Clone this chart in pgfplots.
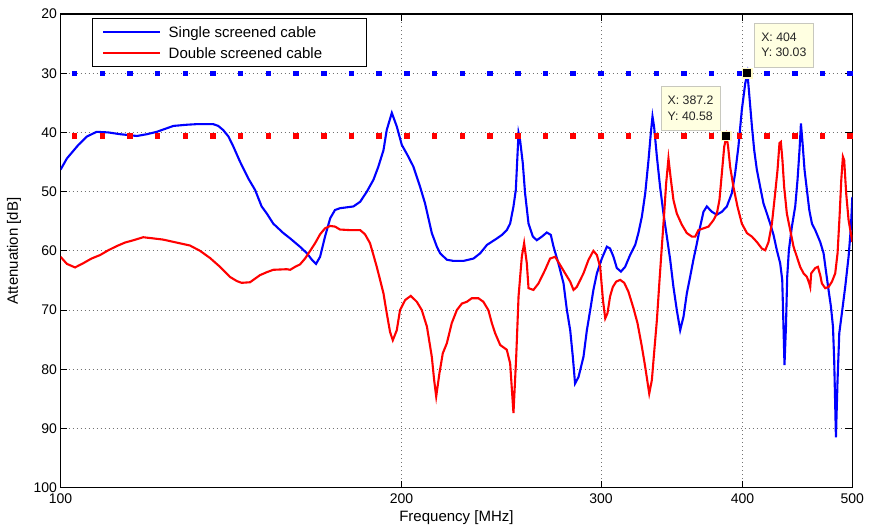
\documentclass[border=0pt]{standalone}
\usepackage{fontspec}
\setmainfont{Liberation Sans}
\usepackage{pgfplots}
\pgfplotsset{compat=1.18}
\definecolor{tipfill}{RGB}{255,255,225}
\definecolor{tipedge}{RGB}{200,200,190}
\definecolor{tipring}{RGB}{255,250,200}

\begin{document}
\begin{tikzpicture}[font=\fontsize{14bp}{17bp}\selectfont]
\begin{axis}[
  scale only axis, width=791.8bp, height=473.7bp,
  xmode=log, xmin=100, xmax=500,
  ymin=20, ymax=100, y dir=reverse,
  xtick={100,200,300,400,500}, xticklabels={100,200,300,400,500},
  ytick={20,30,...,100},
  /pgf/number format/assume math mode=true,
  axis line style={line width=1.3bp},
  tick style={line width=1bp, black},
  major tick length=7bp, tick align=inside,
  grid=major,
  major grid style={black!55, line width=0.8bp, dash pattern=on 0.8bp off 3.2bp},
  xticklabel style={yshift=-2bp},
  xlabel={Frequency [MHz]}, ylabel={Attenuation [dB]},
  label style={font=\fontsize{15bp}{18bp}\selectfont},
  xlabel style={at={(axis description cs:0.5,-0.064)}, anchor=center},
  ylabel style={at={(axis description cs:-0.0587,0.5)}, anchor=center},
  legend style={at={(axis description cs:0.0394,0.9909)}, anchor=north west,
    draw=black, line width=1bp, fill=white,
    font=\fontsize{15bp}{18bp}\selectfont,
    inner xsep=0pt, inner ysep=2.7bp, row sep=0pt, column sep=7.4bp,
    nodes={inner sep=0pt, text height=16bp, text depth=5bp}},
  legend cell align=left,
  legend image code/.code={\draw[#1] (0bp,0bp) -- (57bp,0bp); \path (-10bp,0bp);},
]

% single screened
\addplot[blue, line width=2.1bp] coordinates {
  (100,46.3) (101.3,44.4) (103.7,42.1) (105.5,40.7) (107.6,39.9) (110.2,40.0)
  (112.9,40.3) (116.8,40.6) (119.2,40.3) (121.6,39.9) (124.1,39.3) (125.8,38.9)
  (129.3,38.7) (131.9,38.6) (136.4,38.6) (137.8,38.9) (139.2,39.6) (140.7,40.7)
  (142.1,42.4) (144.0,44.9) (146.5,47.8) (148.5,49.7) (150.5,52.5) (152.1,53.7)
  (154.1,55.4) (157.3,57.0) (159.5,57.9) (162.7,59.3) (165.0,60.4) (166.7,61.5)
  (168.1,62.2) (169.5,61.0) (171.2,57.6) (173.0,54.5) (174.7,53.1) (176.5,52.8)
  (181.4,52.5) (183.9,51.7) (186.4,50.0) (188.9,48.0) (190.8,45.8) (192.8,43.0)
  (194.1,39.6) (196.1,36.7) (198.1,39.0) (200.1,42.1) (202.8,44.1) (204.9,45.8)
  (207.7,49.2) (209.8,52.0) (212.7,57.0) (214.9,59.3) (216.3,60.4) (219.3,61.5)
  (222.3,61.7) (226.8,61.7) (231.5,61.3) (234.7,60.4) (237.9,59.0) (242.8,57.9)
  (245.3,57.3) (247.7,56.5) (249.4,55.4) (251.1,52.5) (252.3,49.7) (253.1,44.1)
  (253.7,40.1) (254.5,41.3) (255.9,45.2) (257.1,50.3) (258.9,55.4) (261.2,57.6)
  (263.3,58.2) (266.0,57.6) (268.7,56.9) (270.9,57.3) (272.4,59.3) (275.1,62.1)
  (278.0,65.5) (279.9,70.0) (281.8,73.4) (283.3,77.9) (284.6,82.4) (286.6,81.3)
  (289.5,77.9) (291.5,73.4) (293.5,70.0) (295.4,66.6) (297.5,63.8) (300.5,61.3)
  (303.6,59.3) (305.6,59.6) (307.7,61.0) (309.8,62.9) (312.4,63.5) (315.1,62.7)
  (318.3,60.7) (321.6,59.0) (323.7,57.0) (326.0,54.2) (328.2,50.3) (330.4,44.7)
  (332.0,40.1) (333.1,37.3) (334.2,39.0) (336.1,44.1) (338.3,49.2) (340.6,53.7)
  (343.0,57.6) (345.3,61.5) (347.6,66.1) (350.0,70.0) (352.4,73.4) (354.8,71.1)
  (357.2,67.2) (359.6,64.4) (362.0,61.5) (364.6,58.7) (367.0,55.9) (369.5,53.4)
  (372.0,52.5) (375.8,53.4) (379.7,53.9) (383.6,53.4) (387.5,52.5) (391.4,50.3)
  (394.1,46.9) (396.7,42.4) (399.5,36.2) (402.2,31.7) (404,30.03) (405.4,33.4)
  (407.7,39.0) (409.6,43.0) (411.8,46.3) (414.6,49.2) (417.4,52.0) (420.3,53.7)
  (423.1,55.4) (426.0,57.3) (428.9,59.9) (431.8,62.1) (433.6,64.9) (434.7,72.8)
  (435.6,79.3) (436.9,72.8) (438.0,64.4) (439.5,59.9) (442.2,55.9) (445.2,52.5)
  (447.3,48.0) (449.1,43.0) (450.4,38.5) (451.9,41.8) (453.7,46.3) (455.9,49.7)
  (458.1,53.1) (460.6,55.4) (463.7,56.5) (468.4,58.5) (471.6,60.4) (474.2,63.8)
  (476.4,66.6) (478.7,69.4) (480.7,72.8) (481.9,78.4) (483.6,91.5) (485.2,81.8)
  (486.9,73.9) (489.5,70.5) (492.8,66.1) (496.2,61.0) (498.6,55.9) (500,50.9)
};
\addlegendentry{\makebox[197.6bp][l]{Single screened cable}}

% double screened
\addplot[red, line width=2.1bp] coordinates {
  (100,61.0) (101.3,62.2) (103.0,62.8) (104.7,62.1) (106.5,61.3) (108.4,60.7)
  (110.2,59.9) (112.1,59.2) (114.0,58.6) (116.0,58.2) (118.3,57.7) (120.8,57.9)
  (123.2,58.1) (126.6,58.6) (130.1,59.1) (132.8,60.0) (135.5,61.2) (138.3,62.7)
  (141.1,64.4) (143.1,65.1) (144.5,65.4) (147.0,65.3) (148.0,64.9) (150.0,64.1)
  (152.1,63.6) (154.1,63.2) (158.4,63.1) (159.5,63.2) (161.1,62.7) (162.7,62.3)
  (164.4,61.3) (166.1,60.0) (167.8,58.7) (169.5,57.2) (171.2,56.2) (173.0,55.8)
  (174.7,55.9) (176.5,56.4) (180.2,56.5) (183.9,56.5) (185.7,57.2) (187.6,58.7)
  (188.9,60.7) (190.2,62.7) (191.5,64.9) (192.8,67.2) (194.1,70.5) (195.4,73.7)
  (196.5,75.1) (198.1,73.4) (199.4,70.0) (201.5,68.3) (203.8,67.6) (206.3,68.6)
  (208.4,70.0) (210.6,72.8) (212.0,76.2) (212.7,77.9) (213.7,81.8) (214.6,84.6)
  (216.0,80.7) (217.5,77.3) (219.3,75.6) (221.5,72.2) (223.8,70.0) (226.1,68.9)
  (228.4,68.6) (230.7,68.0) (233.8,68.0) (236.2,68.6) (238.6,70.0) (240.3,72.2)
  (241.9,73.9) (244.4,75.9) (247.7,76.7) (249.4,79.0) (251.1,87.4) (252.5,77.9)
  (253.7,67.7) (255.4,61.0) (256.6,58.7) (258.0,62.1) (258.9,66.3) (261.5,66.6)
  (264.2,65.5) (267.8,63.2) (270.5,61.3) (273.3,61.0) (276.1,62.4) (278.9,63.8)
  (281.8,65.2) (283.7,66.6) (285.6,66.1) (289.5,63.8) (292.5,61.5) (295.4,60.0)
  (297.5,60.7) (299.5,62.7) (301.2,68.3) (302.6,71.4) (304.0,70.5) (305.6,67.7)
  (307.3,66.1) (309.4,65.2) (311.9,64.9) (314.5,65.4) (317.2,66.9) (320.5,69.7)
  (323.1,72.2) (326.0,76.2) (328.2,79.6) (330.9,84.1) (332.7,81.8) (334.2,77.3)
  (336.1,71.7) (337.9,64.9) (339.5,59.3) (341.1,53.7) (342.5,48.6) (344.1,44.4)
  (345.8,48.0) (347.6,51.4) (350.0,53.7) (353.6,55.6) (357.2,57.0) (360.9,57.6)
  (363.3,57.6) (365.7,56.5) (369.5,56.2) (373.3,55.9) (377.1,54.8) (379.7,53.7)
  (381.7,51.4) (383.6,46.9) (385.4,42.4) (387.2,40.58) (388.5,42.4) (390.1,45.8)
  (392.7,49.2) (395.9,52.5) (399.5,55.4) (403.6,57.0) (407.7,57.6) (411.8,58.5)
  (416.0,59.6) (418.9,59.9) (421.7,58.5) (424.6,55.4) (427.4,50.3) (429.5,46.3)
  (431.2,41.8) (432.4,41.6) (433.8,44.7) (435.3,49.2) (437.7,53.7) (440.7,56.5)
  (443.7,59.3) (446.7,61.0) (449.7,62.7) (452.8,63.8) (455.9,64.4) (458.1,65.5)
  (459.0,66.1) (459.9,63.8) (463.7,62.9) (466.2,62.7) (468.4,64.1) (470.0,65.5)
  (473.2,66.3) (476.4,66.1) (479.7,65.2) (482.9,63.8) (485.2,60.4) (487.2,54.2)
  (488.9,48.0) (490.5,44.1) (491.8,44.7) (493.8,50.3) (496.2,54.8) (500,58.5)
};
\addlegendentry{\makebox[197.6bp][l]{Double screened cable}}

% maximum levels
\addplot[forget plot, only marks, mark=square*, mark size=2.3bp,
  mark options={blue, line width=0.4bp}] coordinates {
  (102.8,30.03) (108.8,30.03) (115.1,30.03) (121.7,30.03) (128.8,30.03)
  (136.2,30.03) (144.1,30.03) (152.5,30.03) (161.3,30.03) (170.7,30.03)
  (180.6,30.03) (191.0,30.03) (202.1,30.03) (213.8,30.03) (226.2,30.03)
  (239.3,30.03) (253.2,30.03) (267.8,30.03) (283.3,30.03) (299.7,30.03)
  (317.1,30.03) (335.5,30.03) (354.9,30.03) (375.5,30.03) (397.2,30.03)
  (420.2,30.03) (444.6,30.03) (470.3,30.03) (497.6,30.03)
};
\addplot[forget plot, only marks, mark=square*, mark size=2.3bp,
  mark options={red, line width=0.4bp}] coordinates {
  (102.8,40.58) (108.8,40.58) (115.1,40.58) (121.7,40.58) (128.8,40.58)
  (136.2,40.58) (144.1,40.58) (152.5,40.58) (161.3,40.58) (170.7,40.58)
  (180.6,40.58) (191.0,40.58) (202.1,40.58) (213.8,40.58) (226.2,40.58)
  (239.3,40.58) (253.2,40.58) (267.8,40.58) (283.3,40.58) (299.7,40.58)
  (317.1,40.58) (335.5,40.58) (354.9,40.58) (375.5,40.58) (397.2,40.58)
  (420.2,40.58) (444.6,40.58) (470.3,40.58) (497.6,40.58)
};

% data tips
\addplot[forget plot, only marks, mark=square*, mark size=4.6bp,
  mark options={fill=black, draw=tipring, line width=1.2bp}] coordinates {
  (404,30.03) (387.2,40.58)
};
\node[draw=tipedge, fill=tipfill, line width=0.8bp, align=left,
  font=\fontsize{12.3bp}{15.4bp}\selectfont, text=black!85,
  minimum width=59bp, minimum height=44bp, anchor=south west]
  at ([xshift=6.5bp,yshift=6bp]axis cs:404,30.03) {X: 404\\Y: 30.03};
\node[draw=tipedge, fill=tipfill, line width=0.8bp, align=left,
  font=\fontsize{12.3bp}{15.4bp}\selectfont, text=black!85,
  minimum width=59bp, minimum height=44bp, anchor=south east]
  at ([xshift=-6bp,yshift=5bp]axis cs:387.2,40.58) {X: 387.2\\Y: 40.58};

\coordinate (bl) at (axis description cs:0,0);
\coordinate (tr) at (axis description cs:1,1);
\end{axis}
\pgfresetboundingbox
\path ([shift={(-60.5bp,-42.3bp)}]bl) rectangle ([shift={(17.7bp,14bp)}]tr);
\end{tikzpicture}
\end{document}
